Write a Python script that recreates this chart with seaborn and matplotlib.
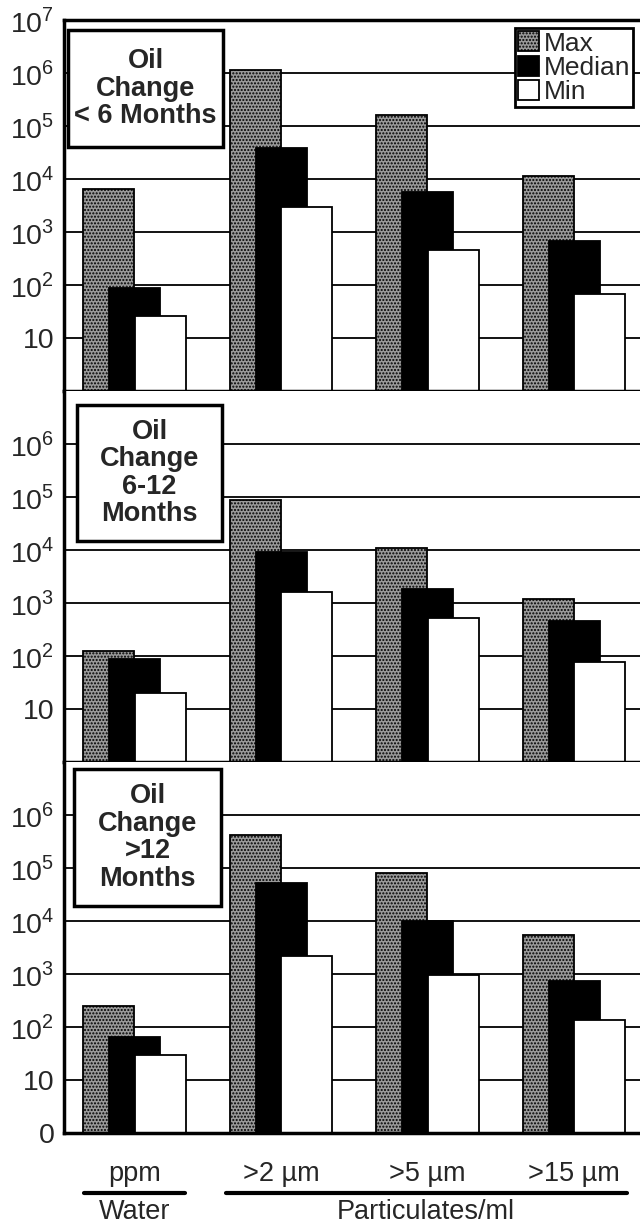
import pandas as pd
import matplotlib
matplotlib.use('Agg')
import matplotlib.pyplot as plt
import matplotlib.transforms as mtransforms
from matplotlib.patches import Rectangle
import seaborn as sns

categories = ['ppm', '>2 µm', '>5 µm', '>15 µm']
stats = ['Max', 'Median', 'Min']
panel_titles = ['Oil\nChange\n< 6 Months', 'Oil\nChange\n6-12\nMonths', 'Oil\nChange\n>12\nMonths']

# values per panel, one list per statistic (water ppm, particulates/ml)
lt6_max = [6500, 1.15e6, 1.6e5, 11500]
lt6_median = [87, 39000, 5600, 680]
lt6_min = [26, 3000, 450, 68]

mid_max = [126, 87000, 10700, 1190]
mid_median = [87, 9100, 1830, 450]
mid_min = [20, 1600, 530, 77]

gt12_max = [250, 4.2e5, 80000, 5500]
gt12_median = [66, 53000, 9800, 730]
gt12_min = [30, 2200, 960, 134]

panels = [(lt6_max, lt6_median, lt6_min),
          (mid_max, mid_median, mid_min),
          (gt12_max, gt12_median, gt12_min)]

sns.set_style('white')
plt.rcParams['font.family'] = ['Liberation Sans', 'DejaVu Sans']
plt.rcParams['mathtext.fontset'] = 'custom'
plt.rcParams['mathtext.rm'] = 'Liberation Sans'
plt.rcParams['hatch.linewidth'] = 1.0

W, H = 640, 1225
fig = plt.figure(figsize=(6.4, 12.25), dpi=100)
axes = fig.subplots(3, 1, sharex=True, gridspec_kw=dict(hspace=0))
fig.subplots_adjust(left=0.1, right=1.0, top=0.9837, bottom=0.0751)

palette = {'Max': '#9a9a9a', 'Median': 'black', 'Min': 'white'}
# title boxes in pixels: left, top, right, bottom
boxes = [(68, 30, 223, 147), (77, 405, 222, 541), (74, 769, 221, 906)]

for k, ax in enumerate(axes):
    mx, md, mn = panels[k]
    df = pd.DataFrame({
        'cat': categories * 3,
        'stat': ['Max'] * 4 + ['Median'] * 4 + ['Min'] * 4,
        'value': mx + md + mn,
    })
    sns.barplot(data=df, x='cat', y='value', hue='stat', hue_order=stats,
                order=categories, palette=palette, width=0.53, gap=-0.97,
                edgecolor='black', linewidth=1.3, saturation=1, legend=False,
                ax=ax, log_scale=(False, True), zorder=2)
    for p in ax.containers[0]:
        p.set_hatch('.....')
    ax.set_yscale('log')
    ax.set_ylim(1, 1e7)
    ax.set_xlim(-0.481, 3.45)
    ax.minorticks_off()
    ax.yaxis.grid(True, color='black', lw=1.3, zorder=0)
    ax.set_axisbelow(True)
    ax.set_xlabel('')
    ax.set_ylabel('')
    for s in ['left', 'bottom', 'top']:
        ax.spines[s].set_linewidth(2.5)
        ax.spines[s].set_color('black')
    ax.spines['right'].set_visible(False)
    if k > 0:
        ax.spines['top'].set_visible(False)

    if k == 0:
        ticks = [10, 1e2, 1e3, 1e4, 1e5, 1e6, 1e7]
        labels = ['10', r'$10^2$', r'$10^3$', r'$10^4$', r'$10^5$', r'$10^6$', r'$10^7$']
    elif k == 1:
        ticks = [10, 1e2, 1e3, 1e4, 1e5, 1e6]
        labels = ['10', r'$10^2$', r'$10^3$', r'$10^4$', r'$10^5$', r'$10^6$']
    else:
        ticks = [1, 10, 1e2, 1e3, 1e4, 1e5, 1e6]
        labels = ['0', '10', r'$10^2$', r'$10^3$', r'$10^4$', r'$10^5$', r'$10^6$']
    ax.set_yticks(ticks)
    ax.set_yticklabels(labels, fontsize=20.5)
    ax.tick_params(axis='y', length=0, pad=7)
    ax.tick_params(axis='x', length=0, pad=20, labelsize=19.5)

    x0, y0, x1, y1 = boxes[k]
    fig.patches.append(Rectangle((x0 / W, 1 - y1 / H), (x1 - x0) / W, (y1 - y0) / H,
                                 transform=fig.transFigure, fc='white', ec='black',
                                 lw=2.5, zorder=4))
    fig.text((x0 + x1) / 2 / W, 1 - (y0 + y1) / 2 / H, panel_titles[k],
             ha='center', va='center', fontsize=19.5, fontweight='bold',
             linespacing=1.08, zorder=5)

leg = axes[0].legend([c[0] for c in axes[0].containers], stats,
                     loc='upper right', bbox_to_anchor=(0.988, 0.978),
                     fontsize=19, frameon=True, fancybox=False, framealpha=1,
                     edgecolor='black', handlelength=0.8, handleheight=0.8,
                     handletextpad=0.15, labelspacing=0.0, borderpad=0.12,
                     borderaxespad=0)
leg.get_frame().set_linewidth(2)

# group labels under the x axis
ax = axes[2]
trans = mtransforms.blended_transform_factory(ax.transData, fig.transFigure)
ax.plot([-0.345, 0.345], [0.026, 0.026], color='black', lw=3, transform=trans, clip_on=False)
ax.plot([0.625, 3.36], [0.026, 0.026], color='black', lw=3, transform=trans, clip_on=False)
ax.text(0.0, 0.0106, 'Water', ha='center', va='center', fontsize=19.5, transform=trans)
ax.text(1.99, 0.0106, 'Particulates/ml', ha='center', va='center', fontsize=19.5, transform=trans)

fig.savefig('out.png', dpi=100)
